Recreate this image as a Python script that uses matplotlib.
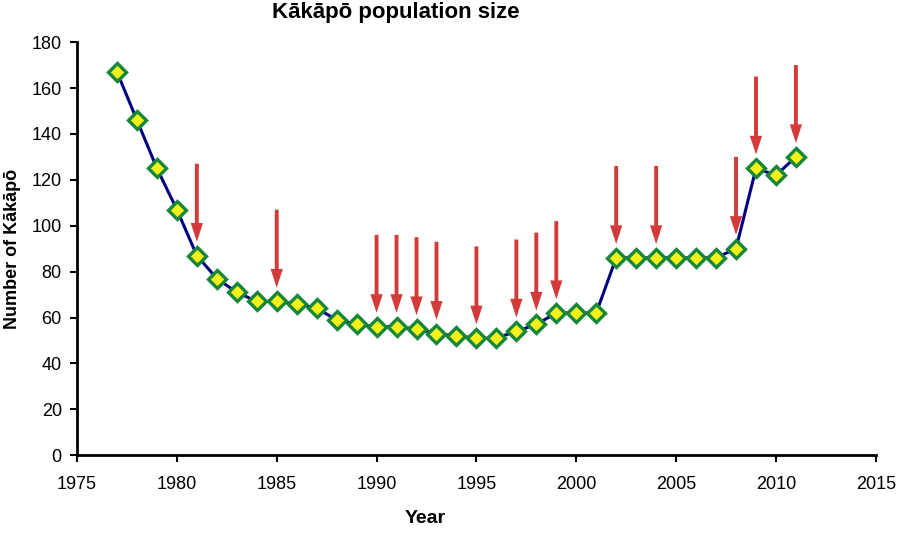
import matplotlib
matplotlib.use('Agg')
import matplotlib.pyplot as plt

plt.rcParams['font.family'] = ['Liberation Sans', 'DejaVu Sans']

years = list(range(1977, 2012))
population = [167, 146, 125, 107, 87, 77, 71, 67, 67, 66,
              64, 59, 57, 56, 56, 55, 53, 52, 51, 51,
              54, 57, 62, 62, 62, 86, 86, 86, 86, 86,
              86, 90, 125, 122, 130]

# years marked with a red arrow
arrow_years = [1981, 1985, 1990, 1991, 1992, 1993, 1995, 1997, 1998, 1999,
               2002, 2004, 2008, 2009, 2011]
arrow_gap = 6      # tip sits this far above the point
arrow_len = 34

xticks = list(range(1975, 2016, 5))
yticks = list(range(0, 181, 20))

fig = plt.figure(figsize=(9, 5.4), dpi=100)
ax = fig.add_axes([0.0856, 0.157, 0.8875, 0.765])

pop_by_year = dict(zip(years, population))
for yr in arrow_years:
    tip = pop_by_year[yr] + arrow_gap
    ax.annotate('', xy=(yr, tip), xytext=(yr, tip + arrow_len),
                arrowprops=dict(width=2.8, headwidth=8.8, headlength=13.5,
                                facecolor='#d43a3a', edgecolor='none'),
                zorder=2)

ax.plot(years, population, color='#000080', linewidth=2.2, zorder=3,
        marker='D', markersize=9.5, markerfacecolor='#f2f21a',
        markeredgecolor='#16873a', markeredgewidth=2.4)

ax.set_xlim(1975, 2015)
ax.set_ylim(0, 180)
ax.set_xticks(xticks)
ax.set_yticks(yticks)
ax.tick_params(labelsize=13, width=1.5, length=5, direction='out')
ax.tick_params(axis='x', pad=10)
ax.tick_params(axis='y', pad=6)

for side in ['top', 'right']:
    ax.spines[side].set_visible(False)
for side in ['left', 'bottom']:
    ax.spines[side].set_linewidth(2)

ax.set_xlabel('Year', fontsize=14, fontweight='bold')
ax.xaxis.set_label_coords(0.4355, -0.132)
ax.set_ylabel('Number of Kākāpō', fontsize=13, fontweight='bold')
ax.yaxis.set_label_coords(-0.070, 0.5)

fig.text(0.44, 0.976, 'Kākāpō population size', fontsize=16, fontweight='bold',
         ha='center', va='center')

fig.savefig('out.png', dpi=100)
